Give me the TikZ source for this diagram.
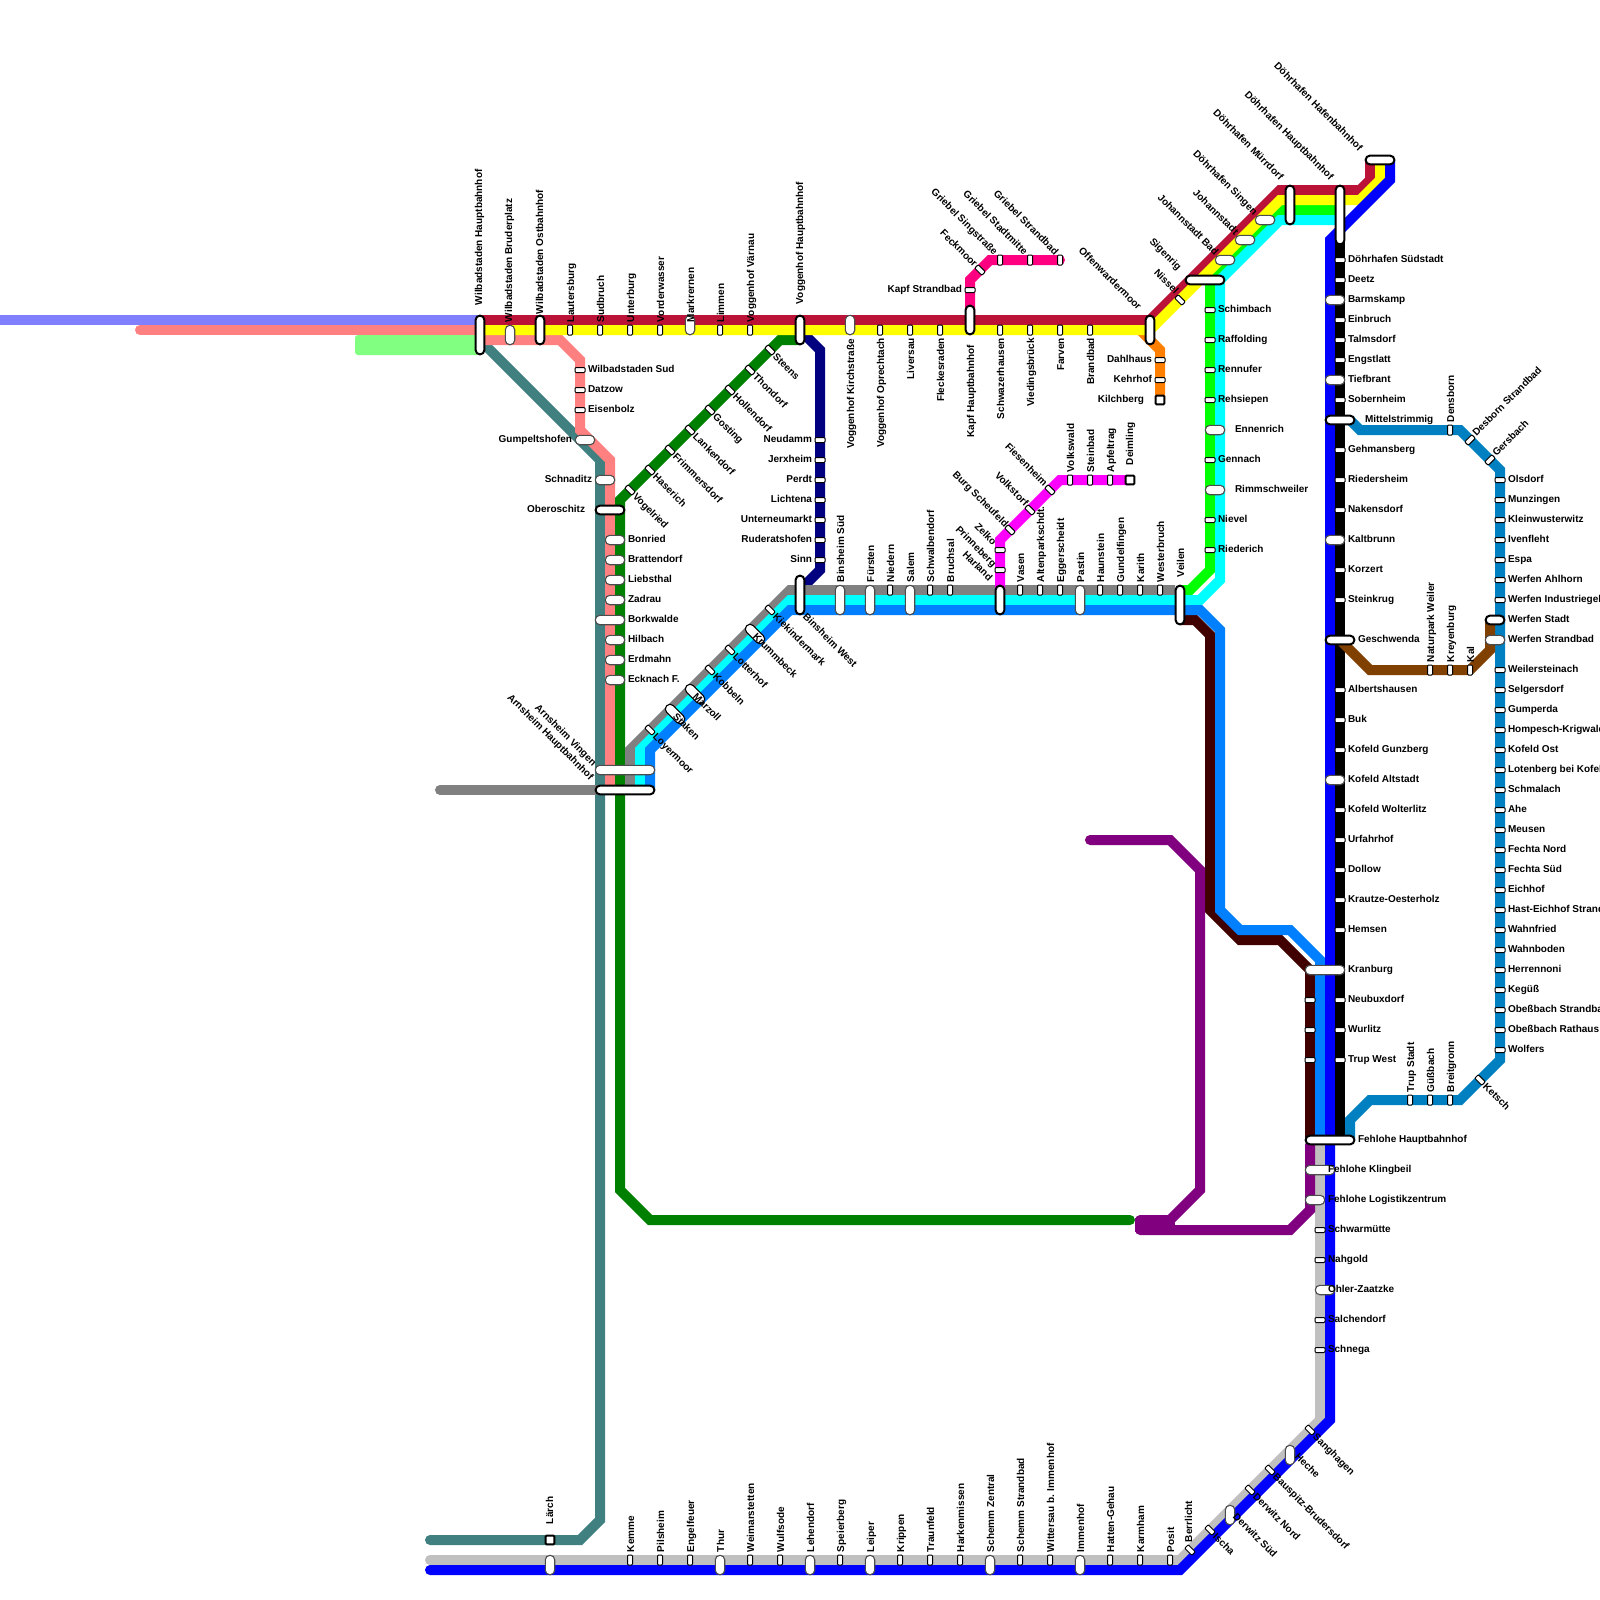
\documentclass[tikz,border=0pt]{standalone}
\usepackage{fontspec}
\setmainfont{Liberation Sans}
\definecolor{cRed}{HTML}{BB1237}
\definecolor{cYel}{HTML}{FFFF00}
\definecolor{cLime}{HTML}{00FF00}
\definecolor{cCyan}{HTML}{00FFFF}
\definecolor{cBlue}{HTML}{0000FF}
\definecolor{cAzure}{HTML}{0080FF}
\definecolor{cGray}{HTML}{808080}
\definecolor{cSilver}{HTML}{C0C0C0}
\definecolor{cTeal}{HTML}{408080}
\definecolor{cSalmon}{HTML}{FF8080}
\definecolor{cViolet}{HTML}{8080FF}
\definecolor{cLtGreen}{HTML}{80FF80}
\definecolor{cGreen}{HTML}{008000}
\definecolor{cNavy}{HTML}{000080}
\definecolor{cOrange}{HTML}{FF8000}
\definecolor{cPink}{HTML}{FF0080}
\definecolor{cMag}{HTML}{FF00FF}
\definecolor{cDark}{HTML}{400000}
\definecolor{cPurple}{HTML}{800080}
\definecolor{cSteel}{HTML}{0080C0}
\definecolor{cBrown}{HTML}{804000}
\tikzset{
  route/.style={line width=10pt,line join=miter,miter limit=4},
  rnd/.style={route,line cap=round},
  stopbase/.style={shape=rectangle,fill=white,inner sep=0pt,outer sep=0pt},
  tinyV/.style={stopbase,draw=black,line width=1pt,rounded corners=1pt,minimum width=5pt,minimum height=10pt},
  tinyH/.style={stopbase,draw=black,line width=1pt,rounded corners=1pt,minimum width=10pt,minimum height=5pt},
  thinpill/.style 2 args={stopbase,draw=black!70,line width=1.1pt,rounded corners=4.5pt,minimum width=#1-.6pt,minimum height=#2-.6pt},
  hubpill/.style 2 args={stopbase,draw=black,line width=2pt,rounded corners=4pt,minimum width=#1-1.4pt,minimum height=#2-1.4pt},
  termsq/.style={stopbase,draw=black,line width=2pt,rounded corners=.8pt,minimum width=8.6pt,minimum height=8.6pt},
  lab/.style={inner sep=0pt,outer sep=0pt,text height=7.2pt,text depth=0pt,font=\fontsize{10}{12}\selectfont\bfseries,text=black},
  labR/.style={lab,anchor=west,text height=5.4pt},
  labL/.style={lab,anchor=east,text height=7.4pt},
  labU/.style={lab,anchor=west,rotate=90,text height=8pt},
  labD/.style={lab,anchor=east,rotate=90,text height=8pt},
  labNW/.style={lab,anchor=east,rotate=-45},
  labSE/.style={lab,anchor=west,rotate=-45},
  labNE/.style={lab,anchor=west,rotate=45}
}
\begin{document}
\begin{tikzpicture}[x=1pt,y=-1pt]
\useasboundingbox (0,0) rectangle (1600,1600);
% light stubs
\draw[route,cViolet] (-10,320) -- (480,320);
\draw[rnd,cSalmon] (140,330) -- (480,330);
\fill[cLtGreen,rounded corners=3pt] (355,335) rectangle (480,355);
% lines
\draw[route,cTeal,line cap=round] (430,1540) -- (580,1540) -- (600,1520) -- (600,460) -- (480,340);
\draw[route,cSalmon] (480,340) -- (560,340) -- (580,360) -- (580,430) -- (610,460) -- (610,790);
\draw[rnd,cGreen] (800,340) -- (780,340) -- (620,500) -- (620,1190) -- (650,1220) -- (1130,1220);
\draw[route,cNavy] (800,330) -- (820,350) -- (820,570) -- (800,590);
\draw[rnd,cGray] (440,790) -- (600,790);
\draw[route,cGray] (630,790) -- (630,750) -- (790,590) -- (1175,590);
\draw[route,cLime] (1210,280) -- (1210,570) -- (1190,590) -- (1180,590);
\draw[route,cCyan] (640,790) -- (640,750) -- (790,600) -- (1200,600) -- (1220,580) -- (1220,280);
\draw[route,cLime] (1210,280) -- (1280,210) -- (1340,210);
\draw[route,cCyan] (1220,280) -- (1280,220) -- (1340,220);
\draw[route,cDark] (1180,620) -- (1195,620) -- (1210,635) -- (1210,910) -- (1240,940) -- (1280,940) -- (1310,970) -- (1310,1140);
\draw[route,cAzure] (650,790) -- (650,750) -- (790,610) -- (1200,610) -- (1220,630) -- (1220,910) -- (1240,930) -- (1290,930) -- (1320,960) -- (1320,1140);
\draw[route,cOrange] (1140,330) -- (1160,350) -- (1160,400);
\draw[rnd,cPink] (970,320) -- (970,280) -- (990,260) -- (1060,260);
\draw[route,cMag] (1000,590) -- (1000,540) -- (1060,480) -- (1130,480);
\draw[route,cRed] (480,320) -- (1150,320) -- (1280,190) -- (1360,190) -- (1370,180) -- (1370,160);
\draw[route,cYel] (480,330) -- (1150,330) -- (1280,200) -- (1360,200) -- (1380,180) -- (1380,160);
\draw[route,cSilver,line cap=round] (1320,1140) -- (1320,1420) -- (1180,1560) -- (430,1560);
\draw[route,cBlue,line cap=round] (1390,160) -- (1390,180) -- (1330,240) -- (1330,1420) -- (1180,1570) -- (430,1570);
\draw[route] (1340,190) -- (1340,1140);
\draw[route,cSteel] (1350,420) -- (1360,430) -- (1460,430) -- (1500,470) -- (1500,1060) -- (1460,1100) -- (1370,1100) -- (1350,1120) -- (1350,1140);
\draw[route,cBrown] (1340,640) -- (1370,670) -- (1470,670) -- (1490,650) -- (1490,620);
\draw[rnd,cPurple] (1090,840) -- (1170,840) -- (1200,870) -- (1200,1190) -- (1170,1220) -- (1140,1220);
\draw[rnd,cPurple] (1140,1230) -- (1290,1230) -- (1310,1210) -- (1310,1145);
\fill[cPurple] (1135,1218) rectangle (1175,1232);
% tiny vertical stops
\foreach \y/\xs in {330/{570,600,630,660,720,750,880,910,940,1000,1030,1060,1090},
  590/{890,930,950,1020,1040,1060,1100,1120,1140,1160},
  260/{1000,1030,1060}, 480/{1070,1090,1110}, 430/{1450},
  1100/{1410,1430,1450}, 670/{1430,1450,1470},
  1560/{630,660,690,750,780,840,900,930,960,1020,1050,1110,1140,1170}}{
  \foreach \x in \xs {\node[tinyV] (tv\x-\y) at (\x,\y) {};}
}
% tiny horizontal stops
\foreach \x/\ys in {580/{370,390,410}, 820/{440,460,480,500,520,540,560}, 970/{290},
  1160/{360,380}, 1210/{310,340,370,400,460,520,550}, 1000/{550,570},
  1340/{260,280,320,340,360,400,450,480,510,570,600,690,720,750,810,840,870,900,930,1000,1030,1060},
  1310/{1000,1030,1060}, 1320/{1230,1260,1320,1350},
  1500/{480,500,520,540,560,580,600,670,690,710,730,750,770,790,810,830,850,870,890,910,930,950,970,990,1010,1030,1050}}{
  \foreach \y in \ys {\node[tinyH] (th\x-\y) at (\x,\y) {};}
}
% tiny diagonal stops
\foreach \x/\y in {1180/300,980/270,1010/530,1030/510,1050/490,770/350,750/370,730/390,710/410,690/430,670/450,650/470,630/490,
  770/610,730/650,710/670,650/730,1310/1430,1270/1470,1250/1490,1210/1530,1190/1550,1480/1080}{
  \node[tinyH,rotate=-45] (td\x-\y) at (\x,\y) {};
}
\foreach \x/\y in {1470/440,1490/460}{\node[tinyH,rotate=45] (te\x-\y) at (\x,\y) {};}
% thin pills
\foreach \x/\y/\w/\h in {510/335/10/20,690/325/10/20,850/325/10/20,840/600/10/30,870/600/10/30,910/600/10/30,1080/600/10/30,
  550/1565/10/20,720/1565/10/20,810/1565/10/20,870/1565/10/20,990/1565/10/20,1080/1565/10/20,
  1290/1455/10/20,1230/1515/10/20,
  1265/220/20/10,1245/240/20/10,1225/260/20/10,605/480/20/10,585/440/20/10,
  615/540/20/10,615/560/20/10,615/580/20/10,615/600/20/10,615/640/20/10,615/660/20/10,615/680/20/10,
  610/620/30/10,625/770/60/10,1325/970/40/10,1320/1170/30/10,1315/1200/20/10,1325/1290/20/10,
  1335/300/20/10,1335/380/20/10,1335/540/20/10,1335/780/20/10,1215/430/20/10,1215/490/20/10,1495/640/20/10}{
  \node[thinpill={\w pt}{\h pt}] (p\x-\y) at (\x,\y) {};
}
\foreach \x/\y in {755/634,695/694,675/714}{\node[thinpill={24pt}{10pt},rotate=-45,draw=black] (q\x-\y) at (\x,\y) {};}
% hub stops
\foreach \x/\y/\w/\h in {480/335/10/40,540/330/10/30,800/330/10/30,970/320/10/30,1150/330/10/30,1290/205/10/40,1340/215/10/60,
  1380/160/30/10,1205/280/40/10,800/595/10/40,1000/600/10/30,1180/605/10/40,610/510/30/10,625/790/60/10,
  1340/420/30/10,1340/640/30/10,1330/1140/50/10,1495/620/20/10}{
  \node[hubpill={\w pt}{\h pt}] (h\x-\y) at (\x,\y) {};
}
\foreach \x/\y in {550/1540,1160/400,1130/480}{\node[termsq] (sq\x-\y) at (\x,\y) {};}
% labels right
\foreach \x/\y/\t in {1348/260/Döhrhafen Südstadt,1348/280/Deetz,1348/300/Barmskamp,1348/320/Einbruch,1348/340/Talmsdorf,1348/360/Engstlatt,1348/380/Tiefbrant,1348/400/Sobernheim,1348/450/Gehmansberg,1348/480/Riedersheim,1348/510/Nakensdorf,1348/540/Kaltbrunn,1348/570/Korzert,1348/600/Steinkrug,1348/690/Albertshausen,1348/720/Buk,1348/750/Kofeld Gunzberg,1348/780/Kofeld Altstadt,1348/810/Kofeld Wolterlitz,1348/840/Urfahrhof,1348/870/Dollow,1348/900/Krautze-Oesterholz,1348/930/Hemsen,1348/970/Kranburg,1348/1000/Neubuxdorf,1348/1030/Wurlitz,1348/1060/Trup West,
  1365/420/Mittelstrimmig,1358/640/Geschwenda,1358/1140/Fehlohe Hauptbahnhof,
  1328/1170/Fehlohe Klingbeil,1328/1200/Fehlohe Logistikzentrum,1328/1230/Schwarmütte,1328/1260/Nahgold,1328/1290/Ohler-Zaatzke,1328/1320/Salchendorf,1328/1350/Schnega,
  1218/310/Schimbach,1218/340/Raffolding,1218/370/Rennufer,1218/400/Rehsiepen,1235/430/Ennenrich,1218/460/Gennach,1235/490/Rimmschweiler,1218/520/Nievel,1218/550/Riederich,
  588/370/Wilbadstaden Sud,588/390/Datzow,588/410/Eisenbolz,
  628/540/Bonried,628/560/Brattendorf,628/580/Liebsthal,628/600/Zadrau,628/620/Borkwalde,628/640/Hilbach,628/660/Erdmahn,628/680/Ecknach F.,
  1508/480/Olsdorf,1508/500/Munzingen,1508/520/Kleinwusterwitz,1508/540/Ivenfleht,1508/560/Espa,1508/580/Werfen Ahlhorn,1508/600/Werfen Industriegel,1508/620/Werfen Stadt,1508/640/Werfen Strandbad,1508/670/Weilersteinach,1508/690/Selgersdorf,1508/710/Gumperda,1508/730/Hompesch-Krigwald,1508/750/Kofeld Ost,1508/770/Lotenberg bei Kofeld,1508/790/Schmalach,1508/810/Ahe,1508/830/Meusen,1508/850/Fechta Nord,1508/870/Fechta Süd,1508/890/Eichhof,1508/910/Hast-Eichhof Strand,1508/930/Wahnfried,1508/950/Wahnboden,1508/970/Herrennoni,1508/990/Kegüß,1508/1010/Obeßbach Strandbad,1508/1030/Obeßbach Rathaus,1508/1050/Wolfers}{
  \node[labR] (lr\x-\y) at (\x,\y) {\t};
}
% labels left
\foreach \x/\y/\t in {572/439/Gumpeltshofen,592/479/Schnaditz,585/509/Oberoschitz,
  812/439/Neudamm,812/459/Jerxheim,812/479/Perdt,812/499/Lichtena,812/519/Unterneumarkt,812/539/Ruderatshofen,812/559/Sinn,
  962/289/Kapf Strandbad,1152/359/Dahlhaus,1152/379/Kehrhof,1144/399/Kilchberg}{
  \node[labL] (ll\x-\y) at (\x,\y) {\t};
}
% labels going up
\foreach \x/\y/\t in {478/305/Wilbadstaden Hauptbahnhof,508/322/Wilbadstaden Bruderplatz,539/314/Wilbadstaden Ostbahnhof,570/322/Lautersburg,600/322/Sudbruch,630/322/Unterburg,660/322/Vorderwasser,690/322/Markrernen,720/322/Limmen,750/322/Voggenhof Värnau,799/304/Voggenhof Hauptbahnhof,
  840/582/Binsheim Süd,870/582/Fürsten,890/582/Niedern,910/582/Salem,930/582/Schwalbendorf,950/582/Bruchsal,1020/582/Vasen,1040/582/Altenparkschdt.,1060/582/Eggerscheidt,1080/582/Pastin,1100/582/Haunstein,1120/582/Gundelfingen,1140/582/Karith,1160/582/Westerbruch,1180/577/Veilen,
  1070/472/Volkswald,1090/472/Steinbad,1110/472/Apfeltrag,1129/465/Deimling,1450/422/Densborn,
  1410/1092/Trup Stadt,1430/1092/Güßbach,1450/1092/Breitgronn,1430/662/Naturpark Weiler,1450/662/Kreyenburg,1470/662/Kal,
  549/1524/Lärch,630/1552/Kemme,660/1552/Pilsheim,690/1552/Engelfeuer,720/1552/Thur,750/1552/Weimarstetten,780/1552/Wulfsode,810/1552/Lehendorf,840/1552/Speierberg,870/1552/Leiper,900/1552/Krippen,930/1552/Traunfeld,960/1552/Harkenmissen,990/1552/Schemm Zentral,1020/1552/Schemm Strandbad,1050/1552/Wittersau b. Immenhof,1080/1552/Immenhof,1110/1552/Hatten-Gehau,1140/1552/Karmham,1170/1552/Posit,1188/1542/Berrlicht}{
  \node[labU] (lu\x-\y) at (\x,\y) {\t};
}
% labels going down
\foreach \x/\y/\t in {850/339/Voggenhof Kirchstraße,880/338/Voggenhof Oprechtach,910/338/Liversau,940/338/Fleckesraden,970/345/Kapf Hauptbahnhof,1000/338/Schwazerhausen,1030/338/Viedingsbrück,1060/338/Farven,1090/338/Brandbad}{
  \node[labD] (ld\x-\y) at (\x,\y) {\t};
}
% labels ending upper left
\foreach \x/\y/\t in {1361/149/Döhrhafen Hafenbahnhof,1332/178/Döhrhafen Hauptbahnhof,1282/178/Döhrhafen Mürrdorf,1256/213/Döhrhafen Singen,1237/233/Johannstadt,1217/253/Johannstadt Bad,1180/268/Sigenrig,1177/292/Nissel,1140/308/Offenwardermoor,
  996/253/Griebel Singstraße,1026/253/Griebel Stadtmitte,1057/253/Griebel Strandbad,976/265/Feckmoor,
  1046/484/Fiesenheim,1027/504/Volkstorf,1007/525/Burg Scheufeld,995/543/Zelko,995/565/Prinneberg,991/579/Harland,
  595/764/Arnsheim Vingen,592/778/Arnsheim Hauptbahnhof}{
  \node[labNW] (lw\x-\y) at (\x,\y) {\t};
}
% labels starting lower right
\foreach \x/\y/\t in {775/355/Steens,755/375/Thondorf,735/395/Hollendorf,715/415/Gosting,695/435/Lankendorf,675/455/Frimmersdorf,655/475/Haserich,635/495/Vogelried,
  775/615/Kiekindermark,805/615/Binsheim West,755/635/Krummbeck,735/655/Lotterhof,715/675/Kobbeln,695/695/Marzoll,675/715/Staken,655/735/Loyermoor,
  1315/1435/Sanghagen,1297/1455/Heche,1275/1475/Bauspitz-Brudersdorf,1255/1495/Derwitz Nord,1235/1515/Derwitz Süd,1215/1535/Ischa,1485/1085/Ketsch}{
  \node[labSE] (ls\x-\y) at (\x,\y) {\t};
}
\node[labNE] (ln1) at (1474,434) {Desborn Strandbad};
\node[labNE] (ln2) at (1494,454) {Gersbach};
\end{tikzpicture}
\end{document}
